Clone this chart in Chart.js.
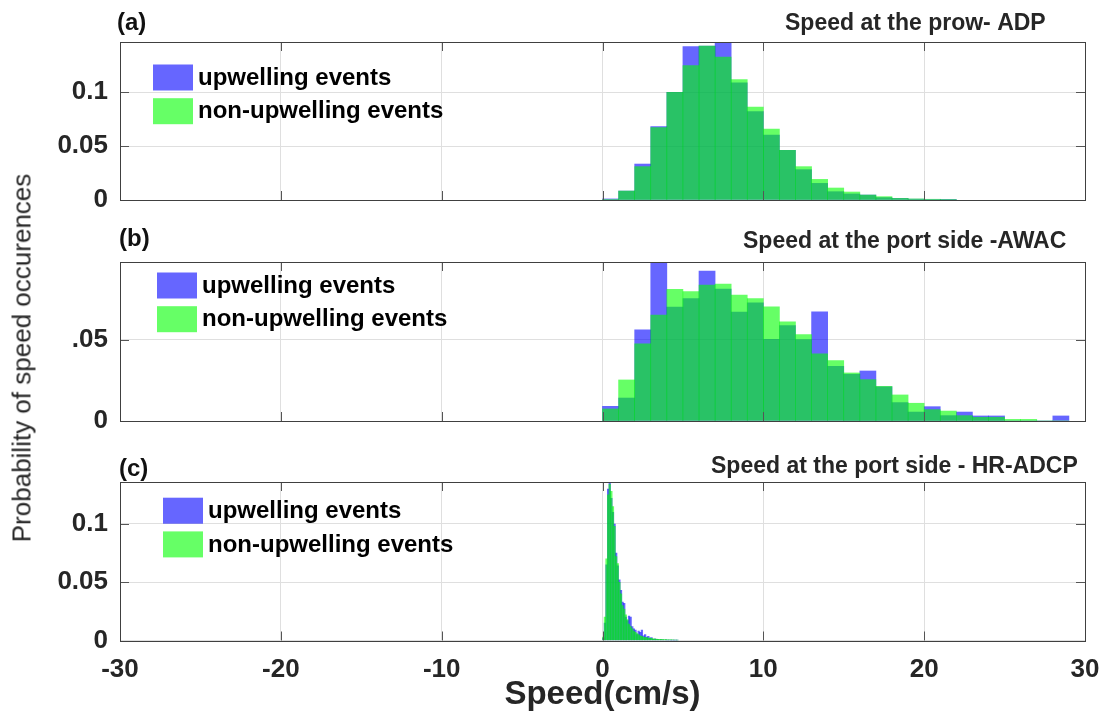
<!DOCTYPE html>
<html>
<head>
<meta charset="utf-8">
<script src="https://cdn.jsdelivr.net/npm/chart.js@4.4.1/dist/chart.umd.min.js"></script>
<style>
  html, body { margin: 0; padding: 0; background: #fff; }
  #page { position: relative; width: 1102px; height: 715px; overflow: hidden; }
  #page canvas { position: absolute; left: 0; }
  #yTitle {
    position: absolute; left: 22px; top: 358px;
    transform: translate(-50%, -50%) rotate(-90deg);
    white-space: nowrap; color: #262626;
    font: 26px "Liberation Sans", Arial, sans-serif;
  }
</style>
</head>
<body>
<div id="page">
  <canvas id="chartA" width="1102" height="215" style="top:0px"></canvas>
  <canvas id="chartB" width="1102" height="220" style="top:215px"></canvas>
  <canvas id="chartC" width="1102" height="280" style="top:435px"></canvas>
  <div id="yTitle">Probability of speed occurences</div>
</div>
<script>
// bin centres (cm/s) and probabilities per bin

// (a) ADP at the prow, 1 cm/s bins
const adpSpeed = [0.5, 1.5, 2.5, 3.5, 4.5, 5.5, 6.5, 7.5, 8.5, 9.5, 10.5, 11.5,
  12.5, 13.5, 14.5, 15.5, 16.5, 17.5, 18.5, 19.5, 20.5, 21.5];
const adpUp = [0.001, 0.0083, 0.0333, 0.068, 0.0997, 0.142, 0.1426, 0.1463, 0.1086, 0.0818, 0.0602, 0.046,
  0.0281, 0.0154, 0.0077, 0.0056, 0.0046, 0.0022, 0.0015, 0.0008, 0.0005, 0.0002];
const adpNon = [0.0005, 0.0083, 0.0309, 0.067, 0.0997, 0.1244, 0.1426, 0.1324, 0.1114, 0.0861, 0.0657, 0.046,
  0.0309, 0.0191, 0.0111, 0.0074, 0.0046, 0.0031, 0.0015, 0.001, 0.0007, 0.0004];

// (b) AWAC at the port side, 1 cm/s bins
const awacSpeed = [0.5, 1.5, 2.5, 3.5, 4.5, 5.5, 6.5, 7.5, 8.5, 9.5, 10.5, 11.5, 12.5, 13.5, 14.5,
  15.5, 16.5, 17.5, 18.5, 19.5, 20.5, 21.5, 22.5, 23.5, 24.5, 25.5, 26.5, 27.5, 28.5];
const awacUp = [0.009, 0.0141, 0.0559, 0.0973, 0.0699, 0.0752, 0.092, 0.081, 0.0668, 0.0725, 0.0502, 0.0586, 0.05, 0.067, 0.0336,
  0.0287, 0.0307, 0.021, 0.0113, 0.0055, 0.0088, 0.0033, 0.0055, 0.0031, 0.0031, 0, 0, 0, 0.0031];
const awacNon = [0.0074, 0.0252, 0.0473, 0.065, 0.0809, 0.0795, 0.0834, 0.084, 0.0773, 0.0752, 0.0701, 0.0609, 0.0531, 0.0412, 0.0371,
  0.0295, 0.0254, 0.0213, 0.016, 0.0109, 0.007, 0.0061, 0.0033, 0.0023, 0.0023, 0.001, 0.001, 0, 0];

// (c) HR-ADCP at the port side, 0.1 cm/s bins
const hrSpeed = [0.05, 0.15, 0.25, 0.35, 0.45, 0.55, 0.65, 0.75, 0.85, 0.95,
  1.05, 1.15, 1.25, 1.35, 1.45, 1.55, 1.65, 1.75, 1.85, 1.95,
  2.05, 2.15, 2.25, 2.35, 2.45, 2.55, 2.65, 2.75, 2.85, 2.95,
  3.05, 3.15, 3.25, 3.35, 3.45, 3.55, 3.65, 3.75, 3.85, 3.95,
  4.05, 4.15, 4.25, 4.35, 4.45, 4.55, 4.65];
const hrUp = [0.002, 0.015, 0.065, 0.13, 0.136, 0.122, 0.11, 0.1, 0.075, 0.064,
  0.052, 0.043, 0.033, 0.032, 0.02, 0.017, 0.021, 0.02, 0.012, 0.01,
  0.009, 0.005, 0.008, 0.007, 0.009, 0.004, 0.005, 0.003, 0.0035, 0.002,
  0.0025, 0.001, 0.0015, 0.001, 0.0008, 0.0006, 0.0008, 0.0005, 0.0004, 0.0006,
  0.0003, 0.0004, 0.0003, 0.0002, 0.0003, 0.0002, 0.0002];
const hrNon = [0.003, 0.02, 0.07, 0.125, 0.134, 0.128, 0.115, 0.098, 0.072, 0.066,
  0.05, 0.04, 0.03, 0.027, 0.022, 0.018, 0.014, 0.012, 0.01, 0.008,
  0.007, 0.006, 0.005, 0.004, 0.0035, 0.003, 0.0028, 0.0025, 0.002, 0.002,
  0.0018, 0.0015, 0.0013, 0.0012, 0.001, 0.001, 0.0009, 0.0008, 0.0008, 0.0007,
  0.0006, 0.0006, 0.0005, 0.0005, 0.0004, 0.0004, 0.0003];

const seriesLabels = ['upwelling events', 'non-upwelling events'];

const FONT = '"Liberation Sans", Arial, Helvetica, sans-serif';
const BLUE = 'rgba(0, 0, 255, 0.6)';
const GREEN = 'rgba(0, 255, 0, 0.6)';
const AXIS = '#262626';
const GRID = '#dfdfdf';

Chart.defaults.font.family = FONT;

function toPoints(xs, ys) {
  return xs.map((x, i) => ({ x: x, y: ys[i] }));
}

function fmtProb(v) {
  return String(+v.toFixed(2));
}

// keep the plot box exactly where layout.padding puts it
function noEdgePadding(scale) {
  scale.paddingTop = 0;
  scale.paddingBottom = 0;
  scale.paddingLeft = 0;
  scale.paddingRight = 0;
}

// box, inward ticks, in-axes legend and the panel headings
const panelDecor = {
  id: 'panelDecor',
  afterDraw(chart, args, opts) {
    const ctx = chart.ctx;
    const a = chart.chartArea;
    const xs = chart.scales.x;
    const ys = chart.scales.y;
    ctx.save();

    ctx.lineWidth = 1;
    ctx.strokeStyle = '#555';
    ctx.beginPath();
    xs.ticks.forEach((t, i) => {
      const px = Math.round(xs.getPixelForTick(i)) + 0.5;
      ctx.moveTo(px, a.bottom); ctx.lineTo(px, a.bottom - 9);
      ctx.moveTo(px, a.top); ctx.lineTo(px, a.top + 9);
    });
    ys.ticks.forEach((t, i) => {
      const py = Math.round(ys.getPixelForTick(i)) + 0.5;
      ctx.moveTo(a.left, py); ctx.lineTo(a.left + 9, py);
      ctx.moveTo(a.right, py); ctx.lineTo(a.right - 9, py);
    });
    ctx.stroke();

    ctx.strokeStyle = '#404040';
    ctx.strokeRect(Math.round(a.left) + 0.5, Math.round(a.top) + 0.5,
      Math.round(a.right - a.left), Math.round(a.bottom - a.top));

    // legend
    ctx.font = 'bold 24px ' + FONT;
    ctx.textBaseline = 'middle';
    ctx.textAlign = 'left';
    chart.data.datasets.forEach((ds, i) => {
      const x0 = a.left + opts.legendX;
      const y0 = a.top + opts.legendY + i * 33.7;
      ctx.fillStyle = ds.backgroundColor;
      ctx.fillRect(x0, y0, 40, 26);
      ctx.fillStyle = '#000';
      ctx.fillText(ds.label, x0 + 45, y0 + 13.5);
    });

    // panel letter and heading
    ctx.fillStyle = '#111';
    ctx.font = 'bold 24px ' + FONT;
    ctx.fillText(opts.letter, opts.letterX, opts.letterY);
    ctx.fillStyle = '#262626';
    ctx.font = 'bold 23px ' + FONT;
    ctx.fillText(opts.heading, opts.headingX, opts.headingY);

    ctx.restore();
  }
};

function buildPanel(canvasId, p) {
  return new Chart(document.getElementById(canvasId), {
    type: 'bar',
    data: {
      datasets: [
        { label: seriesLabels[0], data: toPoints(p.speed, p.up), backgroundColor: BLUE,
          order: 2, grouped: false, barPercentage: 1, categoryPercentage: 1, borderWidth: 0 },
        { label: seriesLabels[1], data: toPoints(p.speed, p.non), backgroundColor: GREEN,
          order: 1, grouped: false, barPercentage: 1, categoryPercentage: 1, borderWidth: 0 }
      ]
    },
    options: {
      responsive: false,
      animation: false,
      events: [],
      layout: { padding: { left: 0, right: 17, top: p.padTop, bottom: p.padBottom } },
      scales: {
        x: {
          type: 'linear',
          min: -30,
          max: 30,
          offset: false,
          ticks: {
            display: p.showX,
            stepSize: 10,
            maxRotation: 0,
            padding: 14,
            color: AXIS,
            font: { size: 26, weight: 'bold' }
          },
          grid: { color: GRID, drawTicks: false, offset: false },
          border: { display: false },
          title: {
            display: p.showX,
            text: 'Speed(cm/s)',
            color: AXIS,
            font: { size: 33, weight: 'bold' },
            padding: { top: 0, bottom: 0 }
          },
          afterFit: function (scale) {
            noEdgePadding(scale);
            scale.height = p.xHeight;
          }
        },
        y: {
          min: 0,
          max: p.yMax,
          ticks: {
            stepSize: 0.05,
            includeBounds: false,
            padding: 12,
            color: AXIS,
            font: { size: 26, weight: 'bold' },
            callback: p.yLabel || fmtProb
          },
          grid: { color: GRID, drawTicks: false },
          border: { display: false },
          afterFit: function (scale) {
            noEdgePadding(scale);
            scale.width = 120;
          }
        }
      },
      plugins: {
        legend: { display: false },
        tooltip: { enabled: false },
        panelDecor: p.decor
      }
    },
    plugins: [panelDecor]
  });
}

buildPanel('chartA', {
  speed: adpSpeed, up: adpUp, non: adpNon,
  yMax: 0.1463, padTop: 42, padBottom: 15, xHeight: 0, showX: false,
  decor: { letter: '(a)', letterX: 117, letterY: 23, heading: 'Speed at the prow- ADP',
    headingX: 785, headingY: 24, legendX: 33, legendY: 22.5 }
});

buildPanel('chartB', {
  speed: awacSpeed, up: awacUp, non: awacNon,
  yMax: 0.0976, padTop: 47, padBottom: 14, xHeight: 0, showX: false,
  yLabel: v => (v === 0 ? '0' : fmtProb(v).replace(/^0/, '')),
  decor: { letter: '(b)', letterX: 119, letterY: 24, heading: 'Speed at the port side -AWAC',
    headingX: 743, headingY: 27, legendX: 37, legendY: 10.5 }
});

buildPanel('chartC', {
  speed: hrSpeed, up: hrUp, non: hrNon,
  yMax: 0.136, padTop: 47, padBottom: 0, xHeight: 74.5, showX: true,
  decor: { letter: '(c)', letterX: 119, letterY: 34, heading: 'Speed at the port side - HR-ADCP',
    headingX: 711, headingY: 32, legendX: 43, legendY: 15.7 }
});
</script>
</body>
</html>
